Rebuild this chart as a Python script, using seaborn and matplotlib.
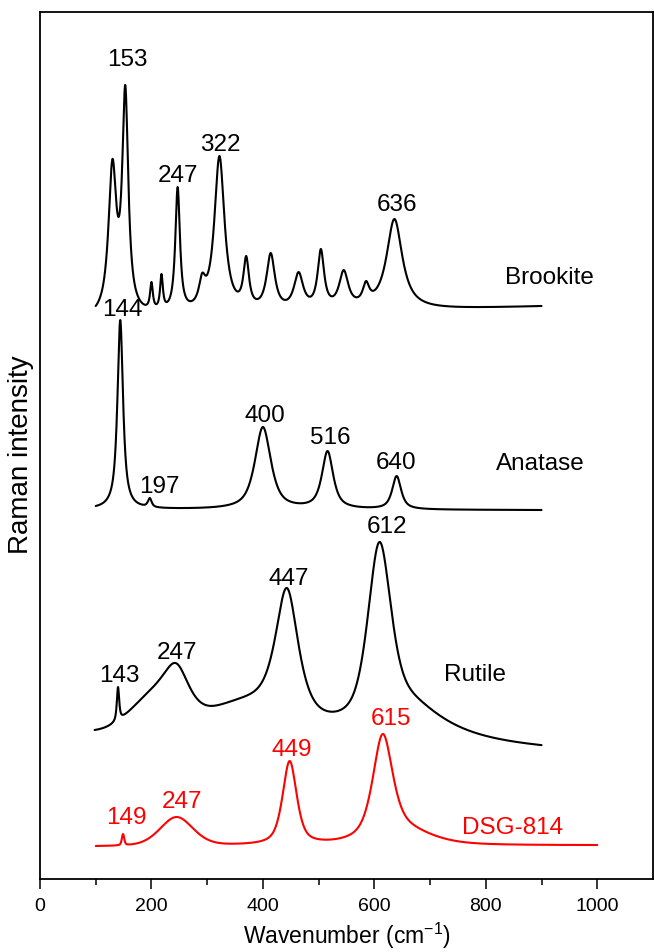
import numpy as np
import pandas as pd
import matplotlib
matplotlib.use("Agg")
import matplotlib.pyplot as plt
import seaborn as sns

# ---------------- data ----------------
# Each spectrum = linear baseline + peaks (centre, half width, Lorentzian share).
# Anchors are points (wavenumber, plotted value);
# the peak amplitudes and the baseline are solved so the trace passes through them.
brookite_pos = [130, 153, 200, 218, 247, 291, 322, 370, 414, 464, 504, 545, 585, 636]
brookite_hw = [8.5, 6.5, 3, 3, 5, 7, 11, 6, 9, 10, 7, 10, 7, 17]
brookite_eta = [0.95] * 14
brookite_anchor_x = [100, 130, 153, 200, 218, 247, 291, 322, 370, 414, 464, 504, 545, 585, 636, 900]
brookite_anchor_y = [573, 720, 794, 597, 605, 692, 606, 723, 623, 626, 607, 630, 609, 598, 660, 573]

anatase_pos = [144, 197, 400, 516, 640]
anatase_hw = [6, 4, 17, 12, 9.5]
anatase_eta = [0.9, 0.8, 0.75, 0.8, 0.8]
anatase_anchor_x = [100, 144, 197, 400, 516, 640, 900]
anatase_anchor_y = [373, 559, 381, 452, 428, 403, 369]

rutile_pos = [140, 205, 245, 365, 443, 609, 650]
rutile_hw = [2.5, 50, 28, 80, 25, 24, 90]
rutile_eta = [0.8, 0.0, 0.7, 0.0, 0.8, 0.5, 1.0]
rutile_anchor_x = [98, 140, 196, 243, 360, 443, 609, 727, 898]
rutile_anchor_y = [149, 192, 188, 216, 181, 291, 337, 160, 134]

dsg_pos = [149, 245, 448, 615, 650]
dsg_hw = [2.5, 35, 15, 21, 60]
dsg_eta = [0.5, 0.3, 0.6, 0.6, 0.5]
dsg_anchor_x = [100, 149, 245, 448, 615, 702, 996]
dsg_anchor_y = [33, 45, 62, 118, 145, 45, 34]

ranges = {"Brookite": [100, 900], "Anatase": [100, 900],
          "Rutile": [98, 900], "DSG-814": [100, 1000]}

labels_brookite = [("153", 157, 820), ("247", 248, 704), ("322", 323, 735),
                   ("636", 641, 675), ("Brookite", 914, 602)]
labels_anatase = [("144", 148, 570), ("197", 214, 393), ("400", 404, 464),
                  ("516", 521, 442), ("640", 639, 417), ("Anatase", 898, 416)]
labels_rutile = [("143", 143, 204), ("247", 246, 227), ("447", 446, 301),
                 ("612", 623, 353), ("Rutile", 780, 205)]
labels_dsg = [("149", 155, 62), ("247", 254, 78), ("449", 452, 130),
              ("615", 630, 161), ("DSG-814", 848, 52)]

x_ticks = [0, 200, 400, 600, 800, 1000]


def profile(x, c, w, eta):
    u = ((x - c) / w) ** 2
    return eta / (1 + u) + (1 - eta) * np.exp(-np.log(2) * u)


def spectrum(pos, hw, eta, ax_x, ax_y, rng):
    x = np.linspace(rng[0], rng[1], 2000)
    ax_x = np.asarray(ax_x, float)
    cols = [profile(ax_x, c, w, e) for c, w, e in zip(pos, hw, eta)]
    cols += [np.ones_like(ax_x), (ax_x - rng[0]) / 100.0]
    A = np.column_stack(cols)
    coef = np.linalg.solve(A, np.asarray(ax_y, float))
    y = coef[-2] + coef[-1] * (x - rng[0]) / 100.0
    for a, c, w, e in zip(coef[:-2], pos, hw, eta):
        y = y + a * profile(x, c, w, e)
    return x, y


sns.set_style("ticks")
plt.rcParams["font.family"] = ["Liberation Sans", "DejaVu Sans"]
plt.rcParams["mathtext.default"] = "regular"

fig = plt.figure(figsize=(6.54, 9.53), dpi=100)
ax = fig.add_axes([40 / 654, 73 / 953, 613 / 654, 867 / 953])

series = [
    ("Brookite", brookite_pos, brookite_hw, brookite_eta, brookite_anchor_x, brookite_anchor_y, "black", labels_brookite),
    ("Anatase", anatase_pos, anatase_hw, anatase_eta, anatase_anchor_x, anatase_anchor_y, "black", labels_anatase),
    ("Rutile", rutile_pos, rutile_hw, rutile_eta, rutile_anchor_x, rutile_anchor_y, "black", labels_rutile),
    ("DSG-814", dsg_pos, dsg_hw, dsg_eta, dsg_anchor_x, dsg_anchor_y, "#ff0000", labels_dsg),
]

for name, pos, hw, eta, axx, axy, col, labs in series:
    x, y = spectrum(pos, hw, eta, axx, axy, ranges[name])
    df = pd.DataFrame({"wavenumber": x, "intensity": y})
    sns.lineplot(data=df, x="wavenumber", y="intensity", ax=ax, color=col,
                 linewidth=1.5, estimator=None, sort=False)
    for txt, tx, ty in labs:
        ax.text(tx, ty, txt, ha="center", va="center", fontsize=17.5, color=col)

ax.set_xlim(0, 1100)
ax.set_ylim(0, 867)
ax.set_xticks(x_ticks)
ax.set_xticks(np.arange(100, 1100, 200), minor=True)
ax.set_yticks([])
ax.tick_params(axis="x", which="major", direction="out", length=7, width=1.1,
               labelsize=14, pad=6, top=False, labelcolor="black", color="black")
ax.tick_params(axis="x", which="minor", direction="out", length=4, width=1.1,
               top=False, color="black")
for s in ax.spines.values():
    s.set_visible(True)
    s.set_linewidth(1.3)
    s.set_color("black")

ax.set_xlabel("Wavenumber (cm$^{-1}$)", fontsize=16.5, labelpad=4, color="black")
ax.set_ylabel("Raman intensity", fontsize=20, color="black")
ax.yaxis.set_label_coords(-6 / 613, (880 - 455) / 867)

fig.savefig("out.png", dpi=100)
